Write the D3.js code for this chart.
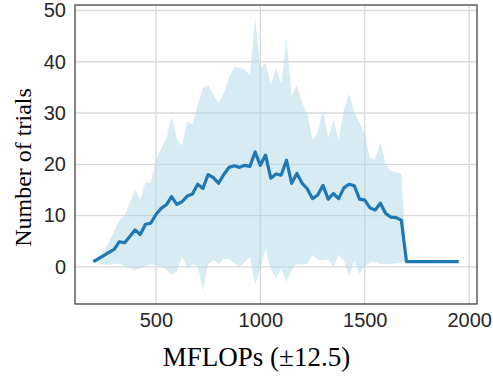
<!DOCTYPE html>
<html><head><meta charset="utf-8">
<script src="https://cdn.jsdelivr.net/npm/d3@7"></script>
<style>html,body{margin:0;padding:0;background:#fff;}</style>
</head><body><svg id="c" width="493" height="377"></svg>
<script>
const mflops = [200,225,250,275,300,325,350,375,400,425,450,475,500,525,550,575,600,625,650,675,700,725,750,775,800,825,850,875,900,925,950,975,1000,1025,1050,1075,1100,1125,1150,1175,1200,1225,1250,1275,1300,1325,1350,1375,1400,1425,1450,1475,1500,1525,1550,1575,1600,1625,1650,1675,1700,1725,1750,1775,1800,1825,1850,1875,1900,1925,1950];
const meanTrials = [1.0,1.6,2.2,2.8,3.4,4.9,4.7,5.9,7.2,6.3,8.3,8.5,10.2,11.4,12.1,13.7,12.2,12.7,13.8,14.2,16.1,15.3,18.0,17.4,16.3,18.0,19.4,19.7,19.4,19.8,19.6,22.4,19.8,21.8,17.3,18.1,17.9,20.8,16.3,18.2,16.3,15.2,13.3,14.0,15.9,13.2,14.3,13.3,15.4,16.1,15.8,13.2,13.0,11.5,11.1,12.4,10.4,9.7,9.6,9.1,1,1,1,1,1,1,1,1,1,1,1];
const upperTrials = [1.0,2.0,3.2,4.8,7.0,9.1,9.9,12.5,15.0,13.0,16.6,16.3,20.8,23.0,25.2,29.3,25.0,23.6,28.3,27.8,31.5,35.0,35.4,33.6,31.9,33.8,37.0,39.0,38.8,38.5,37.4,48.6,38.7,39.7,35.4,39.0,35.6,44.5,33.3,35.4,32.0,30.0,24.6,26.3,30.6,25.2,28.7,24.7,30.6,33.8,30.0,28.1,26.0,21.2,21.1,24.2,20.0,18.8,18.4,18.2,1,1,1,1,1,1,1,1,1,1,1];
const lowerTrials = [1.0,0.7,0.4,0.4,0.6,0.6,0.1,-0.3,-0.6,-0.3,0.2,0.5,0.35,0.0,-0.5,-1.6,-0.9,2.0,-0.3,0.5,0.15,-4.7,0.6,1.3,0.6,1.6,1.6,0.7,-0.1,1.0,2.0,-3.5,-0.3,3.6,-0.5,-2.2,-0.3,-2.9,-0.6,0.55,0.5,0.55,2.3,1.4,1.3,1.5,0.0,2.3,1.3,-1.9,1.2,-1.3,0.1,0.9,1.0,0.55,0.5,0.6,0.7,0.8,1,1,1,1,1,1,1,1,1,1,1];
const xTicks = [500,1000,1500,2000];
const yTicks = [0,10,20,30,40,50];
const xLabel = "MFLOPs (\u00b112.5)";
const yLabel = "Number of trials";

const data = mflops.map((m,i)=>({x:m, mean:meanTrials[i], lo:lowerTrials[i], hi:upperTrials[i]}));

const svg = d3.select("#c");
const L=75, R=477, T=5, B=304;
const x = d3.scaleLinear().domain([112.5,2037.5]).range([L,R]);
const y = d3.scaleLinear().domain([-7.25,51.07]).range([B,T]);

// grid
const grid = svg.append("g");
grid.selectAll("line.v").data(xTicks).enter().append("line")
  .attr("x1",d=>x(d)).attr("x2",d=>x(d)).attr("y1",T).attr("y2",B)
  .attr("stroke","#d9d9d9").attr("stroke-width",1.3);
grid.selectAll("line.h").data(yTicks).enter().append("line")
  .attr("y1",d=>y(d)).attr("y2",d=>y(d)).attr("x1",L).attr("x2",R)
  .attr("stroke","#d9d9d9").attr("stroke-width",1.3);

// band
svg.append("path").datum(data)
  .attr("d", d3.area().x(d=>x(d.x)).y0(d=>y(d.lo)).y1(d=>y(d.hi)))
  .attr("fill","lightblue").attr("fill-opacity",0.5);

// mean line
svg.append("path").datum(data)
  .attr("d", d3.line().x(d=>x(d.x)).y(d=>y(d.mean)))
  .attr("fill","none").attr("stroke","#1f77b4").attr("stroke-width",3.2)
  .attr("stroke-linejoin","round");

// frame
svg.append("rect").attr("x",L).attr("y",T).attr("width",R-L).attr("height",B-T)
  .attr("fill","none").attr("stroke","#333").attr("stroke-width",1.2);

// axes (tick labels only)
const xAxis = d3.axisBottom(x).tickValues(xTicks).tickSize(0).tickPadding(9).tickFormat(d3.format("d"));
const gx = svg.append("g").attr("transform",`translate(0,${B})`).call(xAxis);
const yAxis = d3.axisLeft(y).tickValues(yTicks).tickSize(0).tickPadding(9).tickFormat(d3.format("d"));
const gy = svg.append("g").attr("transform",`translate(${L},0)`).call(yAxis);
[gx,gy].forEach(g=>{
  g.select(".domain").remove();
  g.selectAll("text").attr("font-family","'Liberation Sans', Arial, sans-serif").attr("font-size",20).attr("fill","#262626");
});

svg.append("text").attr("x",256.5).attr("y",366).attr("text-anchor","middle")
  .attr("font-family","'Liberation Serif','Times New Roman',serif").attr("font-size",27).attr("fill","#000")
  .text(xLabel);
svg.append("text").attr("transform","translate(31,167.5) rotate(-90)").attr("text-anchor","middle")
  .attr("font-family","'Liberation Serif','Times New Roman',serif").attr("font-size",24).attr("fill","#000")
  .text(yLabel);
</script></body></html>
